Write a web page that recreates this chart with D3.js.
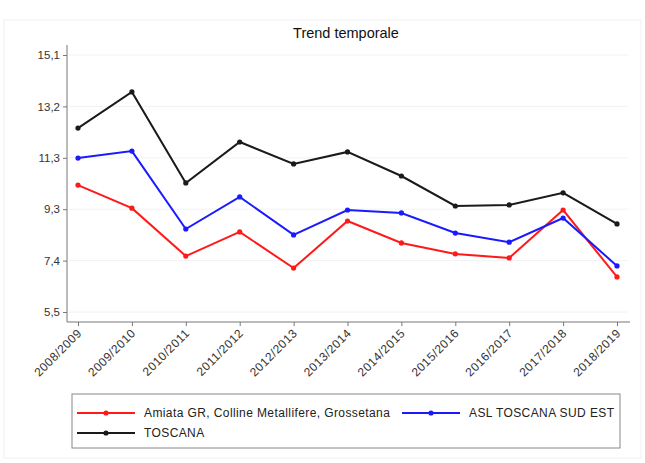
<!DOCTYPE html>
<html><head><meta charset="utf-8">
<script src="https://cdn.jsdelivr.net/npm/d3@7"></script>
<style>body{margin:0;background:#fff;}svg{display:block;font-family:"Liberation Sans",Arial,sans-serif;}</style>
</head><body>
<svg id="c" width="645" height="463"></svg>
<script>
const categories = ["2008/2009","2009/2010","2010/2011","2011/2012","2012/2013","2013/2014","2014/2015","2015/2016","2016/2017","2017/2018","2018/2019"];
const amiata = [10.24,9.38,7.59,8.49,7.14,8.90,8.08,7.67,7.52,9.31,6.81];
const aslSudEst = [11.25,11.51,8.60,9.80,8.38,9.31,9.20,8.45,8.11,9.01,7.22];
const toscana = [12.37,13.72,10.32,11.85,11.03,11.48,10.58,9.46,9.50,9.95,8.79];
const yTicks = [5.5,7.4,9.3,11.3,13.2,15.1];
const yTickValues = [5.5,7.42,9.34,11.26,13.18,15.1];
const seriesNames = ["Amiata GR, Colline Metallifere, Grossetana","ASL TOSCANA SUD EST","TOSCANA"];
const seriesColors = ["#ff1a1a","#1a1aff","#1a1a1a"];

const svg = d3.select("#c");
svg.append("rect").attr("x",4).attr("y",20).attr("width",637).attr("height",438).attr("fill","#fff").attr("stroke","#f0f0f0");

const x = d3.scalePoint().domain(categories).range([78,617]);
const y = d3.scaleLinear().domain([5.5,15.1]).range([312,55]);

// gridlines
svg.append("g").selectAll("line").data(yTickValues).join("line")
  .attr("x1",69).attr("x2",628).attr("y1",d=>y(d)).attr("y2",d=>y(d))
  .attr("stroke","#f2f2f2").attr("stroke-width",1);

svg.append("text").attr("x",346).attr("y",38).attr("text-anchor","middle")
  .attr("font-size",14.5).attr("fill","#111").text("Trend temporale");

// axes
const fmt = v => { const i = yTickValues.indexOf(v); return String(yTicks[i]).replace(".",","); };
const ya = svg.append("g").attr("transform","translate(67,0)")
  .call(d3.axisLeft(y).tickValues(yTickValues).tickFormat(fmt).tickSize(4).tickSizeOuter(0));
ya.select(".domain").attr("stroke","#777").attr("d","M0,45V322");
ya.selectAll(".tick line").attr("stroke","#777");
ya.selectAll(".tick text").attr("font-size",11.5).attr("fill","#333").attr("font-family","Liberation Sans, Arial, sans-serif");

const xa = svg.append("g").attr("transform","translate(0,322)")
  .call(d3.axisBottom(x).tickSize(4).tickSizeOuter(0));
xa.select(".domain").attr("stroke","#777").attr("d","M67,0H630");
xa.selectAll(".tick line").attr("stroke","#777");
xa.selectAll(".tick text").attr("font-size",12).attr("fill","#333")
  .attr("font-family","Liberation Sans, Arial, sans-serif")
  .attr("letter-spacing","0.5px")
  .attr("text-anchor","end").attr("dy","0.35em")
  .attr("transform","translate(1,9) rotate(-45)").attr("x",0).attr("y",0);

const data = [amiata, aslSudEst, toscana];
const line = d3.line().x((d,i)=>x(categories[i])).y(d=>y(d));
data.forEach((s,k)=>{
  svg.append("path").datum(s).attr("d",line).attr("fill","none")
    .attr("stroke",seriesColors[k]).attr("stroke-width",2);
  svg.append("g").selectAll("circle").data(s).join("circle")
    .attr("cx",(d,i)=>x(categories[i])).attr("cy",d=>y(d)).attr("r",2.6)
    .attr("fill",seriesColors[k]);
});

// legend
const lg = svg.append("g");
lg.append("rect").attr("x",72).attr("y",394).attr("width",548).attr("height",54)
  .attr("fill","#fff").attr("stroke","#888");
const items = [{x:77,y:413},{x:402,y:413},{x:77,y:433}];
items.forEach((p,k)=>{
  lg.append("line").attr("x1",p.x).attr("x2",p.x+58).attr("y1",p.y).attr("y2",p.y)
    .attr("stroke",seriesColors[k]).attr("stroke-width",2);
  lg.append("circle").attr("cx",p.x+29).attr("cy",p.y).attr("r",2.6).attr("fill",seriesColors[k]);
  lg.append("text").attr("x",p.x+67).attr("y",p.y).attr("dy","0.35em")
    .attr("font-size",12).attr("letter-spacing","0.4px").attr("fill","#222").text(seriesNames[k]);
});
</script>
</body></html>
